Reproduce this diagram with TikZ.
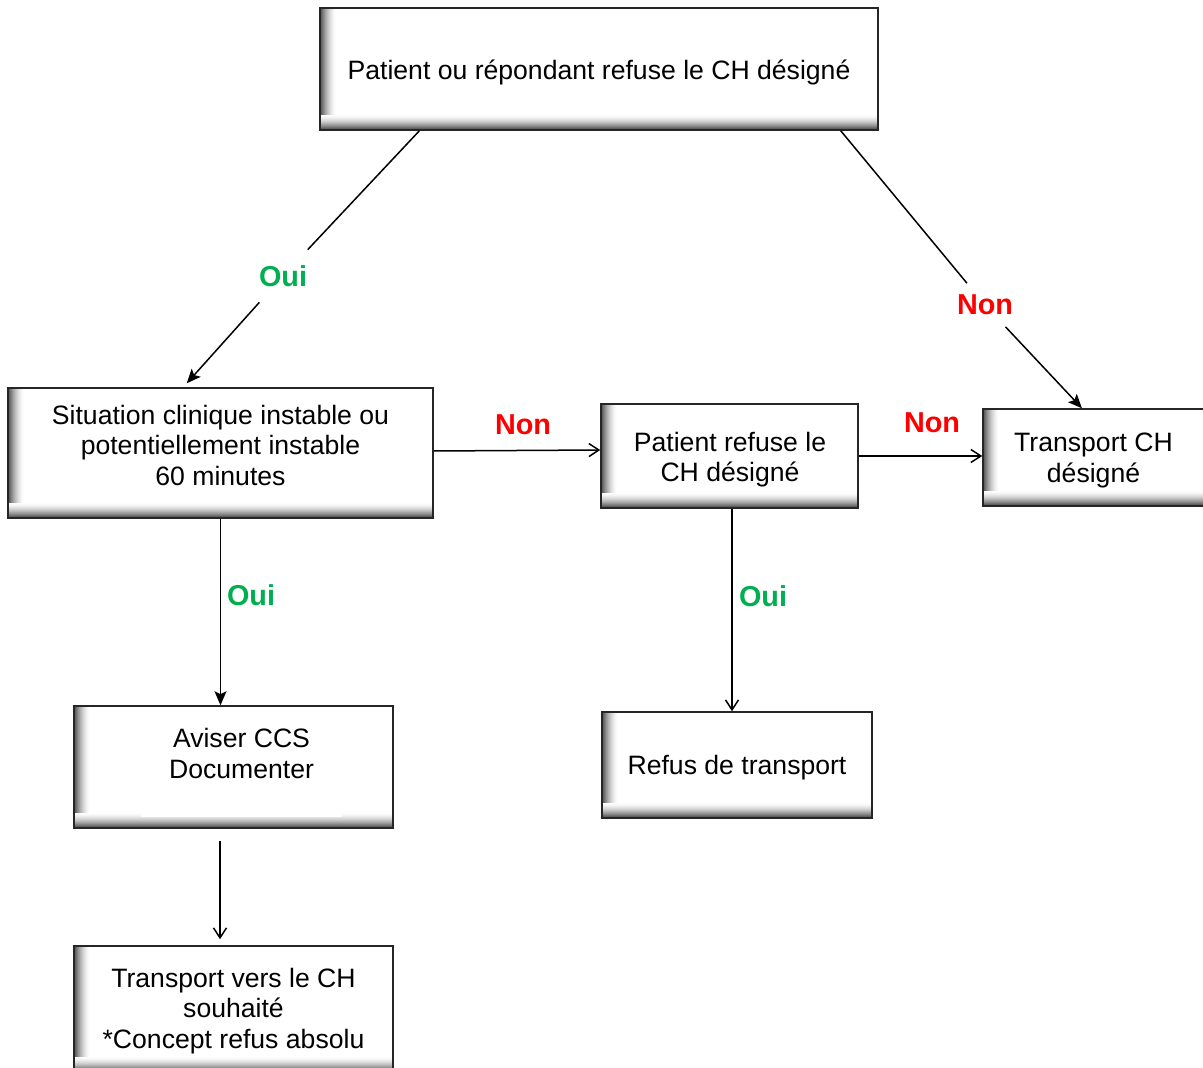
\documentclass[tikz,border=0pt]{standalone}
\usepackage{fontspec}
\setmainfont{Liberation Sans}
\usetikzlibrary{arrows.meta,calc}
\definecolor{ouigreen}{RGB}{0,176,80}
\definecolor{nonred}{RGB}{255,0,0}
\newcommand{\boxfont}{\fontsize{13.3}{15.25}\selectfont}
\newcommand{\labfont}{\fontsize{14.4}{16}\selectfont\bfseries}
\tikzset{
  box/.style={draw=black!85, line width=0.75pt, fill=white, inner sep=0pt,
    path picture={
      \foreach \i [evaluate=\i as \c using {70*(1-\i/16)^1.7}] in {0,...,15} {
        \fill[black!\c]
          ([xshift=\i*0.5pt]path picture bounding box.south west) rectangle
          ([xshift=\i*0.5pt+0.55pt]path picture bounding box.north west);
      }
      \foreach \i [evaluate=\i as \c using {70*(1-\i/15)^1.7}] in {0,...,14} {
        \fill[black!\c]
          ([yshift=\i*0.5pt]path picture bounding box.south west) rectangle
          ([yshift=\i*0.5pt+0.55pt]path picture bounding box.south east);
      }
    }},
  boxtext/.style={align=center, font=\boxfont, inner sep=0pt},
  oui/.style={font=\labfont, text=ouigreen, inner sep=0pt},
  non/.style={font=\labfont, text=nonred, inner sep=0pt},
  diaglab/.style={inner xsep=2pt},
  conn/.style={line width=0.75pt, draw=black},
  arrfill/.style={conn, -{Stealth[length=7pt,width=6pt,inset=1.5pt]}},
  arropen/.style={conn, -{Straight Barb[length=5pt,width=6.5pt]}},
}
\begin{document}
\begin{tikzpicture}[x=0.5pt,y=0.5pt]
\useasboundingbox (0,0) rectangle (1203,-1068);

% boxes
\node[box, minimum width=279pt, minimum height=61pt] (top) at (599,-69) {};
\node[boxtext] (top-t) at (599,-72) {Patient ou répondant refuse le CH désigné};

\node[box, minimum width=212.5pt, minimum height=65pt] (sit) at (220.5,-453) {};
\node[boxtext] (sit-t) at (220.5,-445)
  {Situation clinique instable ou\\potentiellement instable\\60 minutes};

\node[box, minimum width=128.5pt, minimum height=52pt] (pref) at (729.5,-456) {};
\node[boxtext] (pref-t) at (730,-459.5) {Patient refuse le\\CH désigné};

\node[box, minimum width=111.5pt, minimum height=48.5pt] (tch) at (1094.5,-457.5) {};
\node[boxtext] (tch-t) at (1093.5,-460.5) {Transport CH\\désigné};

\node[box, minimum width=159.5pt, minimum height=61pt] (av) at (233.5,-767) {};
\fill[white] (141,-803) rectangle (342,-817);
\node[boxtext] (av-t) at (241.5,-753.5) {Aviser CCS\\Documenter};

\node[box, minimum width=135pt, minimum height=53pt] (refus) at (737,-765) {};
\node[boxtext] (refus-t) at (737,-768) {Refus de transport};

\node[box, minimum width=159.5pt, minimum height=63pt] (tv) at (233.5,-1009) {};
\node[boxtext] (tv-t) at (233.5,-1011)
  {Transport vers le CH\\souhaité\\*Concept refus absolu};

% labels
\node[oui, diaglab, inner ysep=7.7pt] (l1) at (283,-276) {Oui};
\node[non, diaglab, inner ysep=5.7pt] (l2) at (985,-305) {Non};
\node[non] (l3) at (523,-425) {Non};
\node[non] (l4) at (932,-423) {Non};
\node[oui] (l5) at (251,-595) {Oui};
\node[oui] (l6) at (763,-596) {Oui};

% connectors
\draw[conn] ($(top.south west)!0.179!(top.south east)$) -- (l1);
\draw[arrfill] (l1) -- ($(sit.north west)!0.421!(sit.north east)+(0,4)$);
\draw[conn] ($(top.south west)!0.932!(top.south east)$) -- (l2);
\draw[arrfill] (l2) -- ($(tch.north west)!0.444!(tch.north east)$);
\draw[arropen] ($(sit.east)+(0,2)$) -- ($(pref.west)+(0,6)$);
\draw[arropen] (pref.east) -- (pref.east -| tch.west);
\draw[arrfill] (sit.south) -- (sit.south |- av.north);
\draw[arropen] ($(pref.south)+(2.5,0)$) -- ($(pref.south |- refus.north)+(2.5,0)$);
\draw[arropen] ($(av.south)+(-13.5,-12)$) -- ($(tv.north)+(-13.5,6)$);
\end{tikzpicture}
\end{document}
